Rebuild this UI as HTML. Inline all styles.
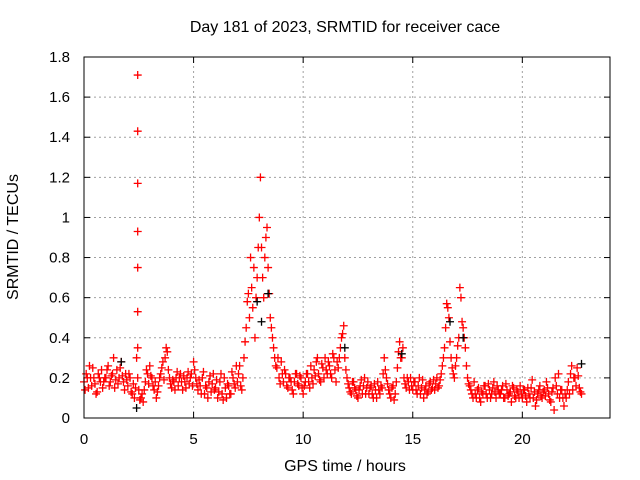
<!DOCTYPE html>
<html><head><meta charset="utf-8"><style>
body{margin:0;background:#fff;}
svg{display:block;font-family:"Liberation Sans",sans-serif;}
</style></head><body>
<svg id="chart" width="640" height="480">
<text x="345" y="32" text-anchor="middle" font-size="16">Day 181 of 2023, SRMTID for receiver cace</text>
<text x="18" y="237" text-anchor="middle" font-size="16" transform="rotate(-90 18 237)">SRMTID / TECUs</text>
<text x="345" y="471" text-anchor="middle" font-size="16">GPS time / hours</text>
<g id="grid"></g><g id="axes"></g><g id="marks"></g>
<rect x="84" y="57" width="526" height="361" fill="none" stroke="#000"/>
</svg>
<script>
const xTicks=[0,5,10,15,20];
const yTicks=[0,0.2,0.4,0.6,0.8,1,1.2,1.4,1.6,1.8];
const yTickLabels=["0","0.2","0.4","0.6","0.8","1","1.2","1.4","1.6","1.8"];
const seriesA=[0.18,0.22,0.15,0.2,0.25,0.17,0.13,0.2,0.24,0.18,
0.2,0.26,0.18,0.22,0.15,0.24,0.2,0.28,0.18,0.22,
0.16,0.2,0.12,0.1,0.3,0.14,0.1,0.08,0.18,0.22,
0.26,0.2,0.14,0.1,0.16,0.22,0.28,0.3,0.33,0.2,
0.15,0.18,0.2,0.16,0.22,0.14,0.18,0.2,0.17,0.22,
0.28,0.2,0.14,0.16,0.2,0.12,0.15,0.18,0.13,0.22,
0.15,0.1,0.18,0.12,0.2,0.1,0.16,0.12,0.2,0.15,
0.18,0.26,0.14,0.3,0.45,0.62,0.8,0.55,0.4,0.7,
1.0,0.85,0.6,0.9,0.75,0.5,0.4,0.3,0.25,0.2,
0.28,0.18,0.22,0.15,0.2,0.14,0.18,0.22,0.16,0.2,
0.12,0.18,0.22,0.15,0.2,0.24,0.28,0.22,0.18,0.25,
0.3,0.22,0.26,0.2,0.3,0.18,0.25,0.35,0.42,0.3,
0.2,0.15,0.12,0.18,0.14,0.1,0.16,0.12,0.2,0.15,
0.12,0.16,0.1,0.14,0.18,0.12,0.15,0.3,0.2,0.14,
0.1,0.16,0.12,0.25,0.38,0.3,0.2,0.15,0.18,0.2,
0.14,0.18,0.12,0.2,0.15,0.1,0.16,0.13,0.18,0.15,
0.14,0.2,0.16,0.22,0.3,0.45,0.55,0.38,0.25,0.2,
0.3,0.4,0.6,0.45,0.35,0.2,0.16,0.12,0.18,0.1,
0.15,0.08,0.12,0.16,0.1,0.14,0.12,0.18,0.1,0.14,
0.12,0.16,0.1,0.14,0.12,0.08,0.15,0.1,0.13,0.16,
0.1,0.14,0.08,0.12,0.15,0.1,0.06,0.12,0.16,0.1,
0.14,0.18,0.12,0.08,0.15,0.2,0.12,0.1,0.14,0.06,
0.1,0.18,0.22,0.14,0.2,0.25,0.15,0.12];
const seriesB=[0.14,0.2,0.26,0.16,0.2,0.12,0.22,0.18,0.15,0.2,
0.24,0.16,0.21,0.3,0.19,0.17,0.25,0.21,0.14,0.19,
0.22,0.13,0.17,0.15,0.2,0.09,0.12,0.14,0.24,0.17,
0.21,0.16,0.18,0.13,0.2,0.25,0.19,0.35,0.24,0.17,
0.19,0.14,0.23,0.2,0.18,0.21,0.15,0.23,0.2,0.16,
0.24,0.17,0.19,0.12,0.23,0.16,0.1,0.21,0.17,0.14,
0.19,0.13,0.22,0.09,0.15,0.17,0.12,0.23,0.17,0.26,
0.22,0.16,0.2,0.38,0.58,0.5,0.65,0.75,0.6,0.85,
1.2,0.7,0.8,0.95,0.62,0.45,0.35,0.26,0.3,0.17,
0.22,0.24,0.16,0.2,0.18,0.12,0.22,0.17,0.21,0.15,
0.16,0.22,0.18,0.26,0.17,0.21,0.3,0.19,0.27,0.2,
0.24,0.28,0.22,0.32,0.24,0.28,0.3,0.4,0.46,0.24,
0.17,0.13,0.18,0.15,0.11,0.14,0.19,0.16,0.12,0.18,
0.15,0.12,0.17,0.1,0.14,0.16,0.22,0.24,0.17,0.12,
0.15,0.09,0.18,0.33,0.3,0.35,0.17,0.2,0.14,0.16,
0.18,0.14,0.16,0.12,0.19,0.14,0.12,0.17,0.14,0.19,
0.17,0.15,0.19,0.26,0.35,0.57,0.5,0.3,0.22,0.26,
0.36,0.65,0.48,0.4,0.26,0.17,0.14,0.1,0.12,0.14,
0.1,0.13,0.16,0.12,0.17,0.1,0.15,0.13,0.16,0.12,
0.14,0.1,0.17,0.11,0.13,0.16,0.11,0.14,0.1,0.12,
0.14,0.11,0.15,0.1,0.19,0.13,0.09,0.14,0.11,0.13,
0.11,0.15,0.09,0.13,0.04,0.16,0.22,0.14,0.1,0.12,
0.14,0.12,0.26,0.2,0.16,0.21,0.13];
const stepA=0.1, stepB=0.1, offsetB=0.05;
const spikeTimes=[2.45,2.45,2.45,2.45,2.45,2.45,2.45];
const spikeVals=[1.71,1.43,1.17,0.93,0.75,0.53,0.35];
const blackTimes=[2.4,7.9,8.1,8.4,14.5,16.7,17.3,22.7,1.7,11.9];
const blackVals=[0.05,0.58,0.48,0.62,0.32,0.48,0.4,0.27,0.28,0.35];

const X0=84,X1=610,Y0=418,Y1=57,XMAX=24,YMAX=1.8;
const xs=v=>X0+(X1-X0)*v/XMAX;
const ys=v=>Y0-(Y0-Y1)*v/YMAX;
const NS="http://www.w3.org/2000/svg";
const grid=document.getElementById('grid'),axes=document.getElementById('axes'),marks=document.getElementById('marks');
function mk(tag,attrs,parent){const e=document.createElementNS(NS,tag);for(const k in attrs)e.setAttribute(k,attrs[k]);parent.appendChild(e);return e;}
xTicks.forEach(t=>{
  const x=xs(t);
  if(t>0){const g=mk('line',{x1:x,x2:x,y1:Y0,y2:Y1,stroke:'#a0a0a0','stroke-dasharray':'2,3'},grid);
  
  }
  const tk=mk('line',{x1:x,x2:x,y1:Y0,y2:Y0-6,stroke:'#000'},axes);
  
  
  const tk2=mk('line',{x1:x,x2:x,y1:Y1,y2:Y1+6,stroke:'#000'},axes);
  
  
  const l=mk('text',{x:x,y:444,'text-anchor':'middle','font-size':15},axes);l.textContent=t;
  
  
});
yTicks.forEach((t,i)=>{
  const y=ys(t);
  if(t>0&&t<YMAX){const g=mk('line',{x1:X0,x2:X1,y1:y,y2:y,stroke:'#a0a0a0','stroke-dasharray':'2,3'},grid);
  
  }
  const tk=mk('line',{x1:X0,x2:X0+6,y1:y,y2:y,stroke:'#000'},axes);
  
  
  const tk2=mk('line',{x1:X1,x2:X1-6,y1:y,y2:y,stroke:'#000'},axes);
  
  
  const l=mk('text',{x:70,y:y+5,'text-anchor':'end','font-size':15},axes);l.textContent=yTickLabels[i];
  
  
});
function plus(t,v,color,name){
  const x=xs(t),y=ys(v);
  const p=mk('path',{d:`M${x-4},${y}H${x+4}M${x},${y-4}V${y+4}`,stroke:color,'stroke-width':1.3,fill:'none'},marks);
  
  
}
seriesA.forEach((v,i)=>plus(i*stepA,v,'#ff0000','srmtid-point'));
seriesB.forEach((v,i)=>plus(i*stepB+offsetB,v,'#ff0000','srmtid-point'));
spikeVals.forEach((v,i)=>plus(spikeTimes[i],v,'#ff0000','srmtid-spike-point'));
blackVals.forEach((v,i)=>plus(blackTimes[i],v,'#000000','srmtid-black-point'));
</script>
</body></html>
